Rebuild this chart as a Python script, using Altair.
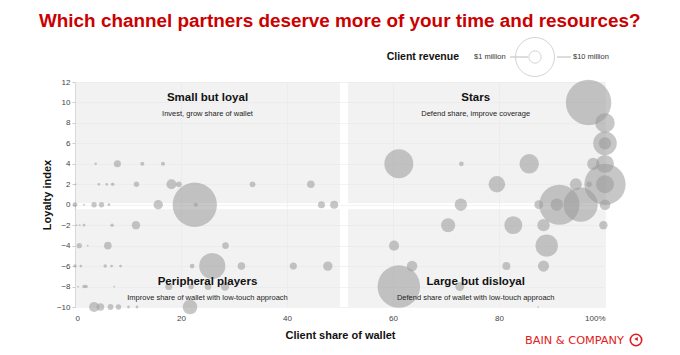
import math
import altair as alt
import pandas as pd

# ---------------- data ----------------
# client share of wallet (%), loyalty index, client revenue ($ million)
share = [
    3.9, 8.0, 12.7, 16.6,
    0.1, 4.5, 6.0, 7.1, 11.6, 18.2, 19.6, 33.5, 44.5,
    0.0, 1.7, 3.6, 5.0, 6.4, 15.7, 22.6, 22.8, 46.5, 48.9,
    0.3, 0.9, 1.7, 7.0, 11.5,
    0.8, 2.4, 6.2, 28.4,
    0.0, 1.1, 5.7, 6.9, 8.6, 22.1, 25.9, 31.4, 41.2, 47.7,
    0.6, 1.7, 2.1, 7.4, 17.7, 21.9, 25.1, 28.3,
    3.6, 4.8, 6.7, 8.2, 10.1, 11.7, 21.7,
    61.1, 72.9, 85.7, 79.6, 96.9, 100.0, 100.0, 100.0, 97.8, 100.0,
    100.0, 100.0, 94.5, 97.0, 72.8, 91.4, 95.4, 90.9, 87.5, 100.0,
    70.4, 82.7, 88.4, 99.7, 60.2, 89.0, 63.6, 81.4, 88.4, 61.1, 72.6, 87.4,
]
loyalty = [
    4, 4, 4, 4,
    2, 2, 2, 2, 2, 2, 2, 2, 2,
    0, 0, 0, 0, 0, 0, 0, 0, 0, 0,
    -2, -2, -2, -2, -2,
    -4, -4, -4, -4,
    -6, -6, -6, -6, -6, -6, -6, -6, -6, -6,
    -8, -8, -8, -8, -8, -8, -8, -8,
    -10, -10, -10, -10, -10, -10, -10,
    4, 4, 4, 2, 10, 8, 6, 6, 4, 4,
    2, 2, 2, 2, 0, 0, 0, 0, 0, 0,
    -2, -2, -2, -2, -4, -4, -6, -6, -6, -8, -8, -10,
]
revenue = [
    0.04, 0.33, 0.11, 0.11,
    0.02, 0.05, 0.05, 0.08, 0.19, 0.67, 0.22, 0.22, 0.38,
    0.15, 0.02, 0.19, 0.19, 0.05, 0.58, 12.9, 0.11, 0.33, 0.42,
    0.02, 0.02, 0.05, 0.08, 0.46,
    0.19, 0.02, 0.38, 0.28,
    0.08, 0.05, 0.08, 0.05, 0.05, 0.15, 4.5, 0.38, 0.33, 0.58,
    0.02, 0.08, 0.08, 0.02, 0.33, 0.19, 0.30, 0.46,
    0.67, 0.38, 0.22, 0.19, 0.05, 0.05, 1.4,
    5.5, 0.15, 2.5, 1.8, 13.6, 2.5, 3.65, 1.0, 1.0, 2.1,
    11.2, 2.1, 0.93, 0.19, 1.0, 10.6, 7.7, 1.0, 0.52, 0.74,
    1.3, 2.1, 1.0, 0.46, 0.67, 3.3, 0.74, 0.42, 0.82, 11.9, 0.52, 0.02,
]

# quadrants
quad_names = ["Small but loyal", "Stars", "Peripheral players", "Large but disloyal"]
quad_notes = [
    "Invest, grow share of wallet",
    "Defend share, improve coverage",
    "Improve share of wallet with low-touch approach",
    "Defend share of wallet with low-touch approach",
]
quad_x0 = [0, 51.5, 0, 51.5]
quad_x1 = [50, 100, 50, 100]
quad_y0 = [0.15, 0.15, -10, -10]
quad_y1 = [12, 12, -0.45, -0.45]
label_x = [25, 75.6, 25, 75.6]
label_y = [10.4, 10.4, -7.6, -7.6]
note_y = [8.9, 8.9, -9.1, -9.1]

x_ticks = [0, 20, 40, 60, 80, 100]
y_ticks = list(range(-10, 13, 2))
legend_revenue = [1, 10]

# ---------------- chart ----------------
FONT = "Liberation Sans, Arial, Helvetica, sans-serif"
W, H = 530, 225

df = pd.DataFrame({"share": share, "loyalty": loyalty, "revenue": revenue})
quad = pd.DataFrame({
    "x0": quad_x0, "x1": quad_x1, "y0": quad_y0, "y1": quad_y1,
    "name": quad_names, "note": quad_notes,
    "lx": label_x, "ly": label_y, "ny": note_y,
})

xs = alt.Scale(domain=[0, 100], nice=False, zero=False)
ys = alt.Scale(domain=[-10, 12], nice=False, zero=False)
size_scale = alt.Scale(domain=[0, 10], range=[0, math.pi * 22 ** 2])

x_axis = alt.Axis(
    values=x_ticks,
    labelExpr="datum.value == 100 ? '100%' : datum.label",
    grid=True, gridColor="#f3f3f3", domain=False, ticks=False,
    labelFont=FONT, labelFontSize=8, labelColor="#444", labelPadding=7,
    title="Client share of wallet", titleFont=FONT, titleFontSize=11,
    titleFontWeight="bold", titleColor="#111", titlePadding=7,
)
y_axis = alt.Axis(
    values=y_ticks,
    grid=True, gridColor="#f3f3f3", domain=True, domainColor="#cccccc",
    ticks=True, tickColor="#cccccc", tickSize=3,
    labelFont=FONT, labelFontSize=8, labelColor="#444", labelPadding=2,
    title="Loyalty index", titleFont=FONT, titleFontSize=11,
    titleFontWeight="bold", titleColor="#111", titlePadding=4,
)


def X(field):
    return alt.X(field, scale=xs, axis=x_axis, title="Client share of wallet")


def Y(field):
    return alt.Y(field, scale=ys, axis=y_axis, title="Loyalty index")


rects = alt.Chart(quad).mark_rect(fill="#e6e6e6", opacity=0.5).encode(
    x=X("x0:Q"), x2="x1:Q", y=Y("y0:Q"), y2="y1:Q",
)

bubbles = alt.Chart(df).mark_circle(color="#999999", opacity=0.55).encode(
    x=X("share:Q"),
    y=Y("loyalty:Q"),
    size=alt.Size("revenue:Q", scale=size_scale, legend=None),
)

heads = alt.Chart(quad).mark_text(
    font=FONT, fontSize=11.5, fontWeight="bold", color="#111", baseline="middle", align="center"
).encode(x=X("lx:Q"), y=Y("ly:Q"), text="name:N")
notes = alt.Chart(quad).mark_text(
    font=FONT, fontSize=7.5, color="#222", baseline="middle", align="center"
).encode(x=X("lx:Q"), y=Y("ny:Q"), text="note:N")

one = alt.Data(values=[{"k": 1}])

title = alt.Chart(one).mark_text(
    font=FONT, fontSize=18.9, fontWeight="bold", color="#cc0000", align="left", baseline="alphabetic"
).encode(x=alt.value(-36), y=alt.value(-55), text=alt.value(
    "Which channel partners deserve more of your time and resources?"))

leg_title = alt.Chart(one).mark_text(
    font=FONT, fontSize=10.5, fontWeight="bold", color="#111", align="right", baseline="middle"
).encode(x=alt.value(384), y=alt.value(-25), text=alt.value("Client revenue"))
leg_1 = alt.Chart(one).mark_text(
    font=FONT, fontSize=7.5, color="#333", align="left", baseline="middle"
).encode(x=alt.value(399), y=alt.value(-25), text=alt.value("$1 million"))
leg_10 = alt.Chart(one).mark_text(
    font=FONT, fontSize=7.5, color="#333", align="left", baseline="middle"
).encode(x=alt.value(498), y=alt.value(-25), text=alt.value("$10 million"))
leg_line1 = alt.Chart(one).mark_rule(color="#aaaaaa", strokeWidth=0.8).encode(
    x=alt.value(435), x2=alt.value(453), y=alt.value(-25))
leg_line2 = alt.Chart(one).mark_rule(color="#aaaaaa", strokeWidth=0.8).encode(
    x=alt.value(482), x2=alt.value(496), y=alt.value(-25))
leg_df = pd.DataFrame({"revenue": legend_revenue})
leg_circles = alt.Chart(leg_df).mark_point(
    shape="circle", filled=False, color="#c8c8c8", strokeWidth=0.8, opacity=1
).encode(
    x=alt.value(460), y=alt.value(-25),
    size=alt.Size("revenue:Q", scale=size_scale, legend=None),
)

logo = alt.Chart(one).mark_text(
    font="DejaVu Sans", fontSize=11.3, color="#e11b22", align="left", baseline="alphabetic"
).encode(x=alt.value(450), y=alt.value(262), text=alt.value("BAIN & COMPANY"))
logo_ring = alt.Chart(one).mark_point(
    shape="circle", filled=False, color="#e11b22", strokeWidth=1.6, opacity=1
).encode(x=alt.value(561), y=alt.value(258), size=alt.value(130))
logo_mark = alt.Chart(one).mark_point(
    shape="triangle-left", filled=True, color="#e11b22", opacity=1
).encode(x=alt.value(561), y=alt.value(257), size=alt.value(18))

chart = alt.layer(
    rects, bubbles, heads, notes, title,
    leg_title, leg_1, leg_10, leg_line1, leg_line2, leg_circles,
    logo, logo_ring, logo_mark,
).properties(
    width=W, height=H,
    padding={"left": 75, "top": 82, "right": 75, "bottom": 48},
    autosize=alt.AutoSizeParams(type="none"),
    background="white",
).configure_view(stroke=None)

chart.save("out.html", embed_options={"renderer": "svg", "actions": False})
